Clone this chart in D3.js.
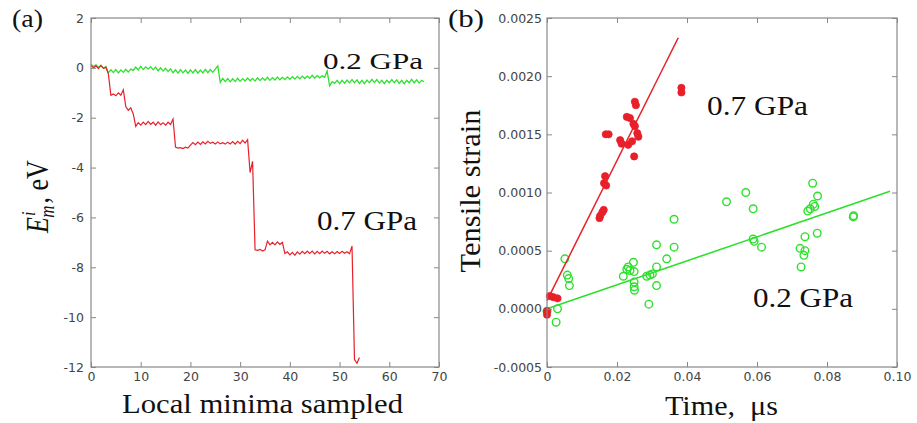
<!DOCTYPE html>
<html><head><meta charset="utf-8">
<script src="https://cdn.jsdelivr.net/npm/d3@7"></script>
<style>
body{margin:0;background:#fff;}
svg{display:block;}
.tick text{font-family:"DejaVu Sans",sans-serif;font-size:12.5px;fill:#444;}
.tick line{stroke:#888;}
.serif{font-family:"Liberation Serif","Times New Roman",serif;fill:#111;}
</style></head>
<body>
<svg id="c" width="917" height="423"></svg>
<script>
// ---------- Panel (a) data ----------
const stepA = 0.5; // sample spacing along "Local minima sampled"
const greenA = [
 0.15,0.05,0.12,0.02,0.1,-0.02,0.05,
 -0.2,-0.08,-0.19,-0.07,-0.2,-0.08,-0.18,-0.06,-0.17,-0.05,
 -0.1,0.03,-0.08,0.06,-0.07,0.04,-0.05,0.05,-0.08,0.03,
 -0.12,0.0,-0.13,-0.02,-0.15,-0.04,
 -0.2,-0.08,-0.21,-0.07,-0.2,-0.09,-0.22,-0.08,-0.2,-0.07,-0.21,-0.09,-0.2,-0.06,-0.19,-0.07,-0.18,
 -0.05,0.08,-0.58,
 -0.42,-0.55,-0.43,-0.56,-0.44,-0.55,-0.42,-0.54,-0.43,-0.53,-0.41,-0.52,-0.42,-0.53,-0.4,-0.51,-0.4,-0.5,-0.38,-0.5,-0.39,-0.49,-0.37,-0.48,-0.38,-0.47,-0.36,-0.46,-0.35,-0.45,-0.34,-0.44,-0.33,-0.43,-0.33,-0.42,-0.3,-0.41,-0.31,-0.4,-0.32,-0.38,
 -0.12,-0.72,-0.55,
 -0.62,-0.5,-0.63,-0.5,-0.62,-0.49,-0.6,-0.47,-0.6,-0.48,-0.62,-0.5,-0.63,-0.49,-0.6,-0.46,-0.58,-0.47,-0.61,-0.5,-0.63,-0.5,-0.6,-0.47,-0.6,-0.48,-0.62,-0.5,-0.64,-0.5,-0.6,-0.46,-0.6,-0.48,-0.61,-0.5,-0.56
];
const redA = [
 0.1,0.0,0.08,-0.03,0.1,-0.02,0.02,-0.25,
 -1.1,-1.05,-1.12,-1.0,-1.1,-0.88,-1.55,-1.7,-1.6,-1.85,
 -2.35,-2.2,-2.3,-2.18,-2.28,-2.15,-2.27,-2.18,-2.3,-2.17,-2.28,-2.2,-2.3,-2.18,-2.27,-2.05,
 -3.18,-3.22,-3.2,-3.24,-3.18,-3.22,
 -3.1,-3.0,-3.08,-2.98,-3.07,-2.97,-3.05,-2.95,-3.03,-2.98,-3.05,-2.97,-3.05,-3.0,-3.06,-2.98,-3.05,-2.96,-3.06,-2.95,-3.04,-2.9,-3.02,-2.88,
 -4.2,-3.75,-7.3,
 -7.32,-7.28,-7.35,-7.3,-6.95,-7.1,-7.0,-7.1,-6.98,-7.08,-7.0,
 -7.45,-7.38,-7.5,-7.4,-7.52,-7.38,-7.47,-7.36,-7.45,-7.35,-7.44,-7.35,-7.46,-7.36,-7.45,-7.35,-7.44,-7.36,-7.46,-7.38,-7.46,-7.37,-7.45,-7.36,-7.44,-7.38,-7.46,
 -7.15,-11.7,-11.85,-11.62
];
const xTicksA = [0,10,20,30,40,50,60,70];
const yTicksA = [2,0,-2,-4,-6,-8,-10,-12];

// ---------- Panel (b) data ----------
const redBX = [0.0,0.0,0.0008,0.0018,0.003,0.015,0.0152,0.0158,0.0162,0.0163,0.0166,0.0169,0.0168,0.0176,
 0.0209,0.0213,0.0228,0.0237,0.0232,0.0247,0.0251,0.0251,0.0254,0.0249,0.0258,0.0261,0.0243,0.0384,0.0384];
const redBY = [-0.00005,-0.00002,0.00011,0.0001,0.00009,0.00078,0.0008,0.00083,0.00085,0.00108,0.00114,0.00106,0.0015,0.0015,
 0.00145,0.00142,0.00165,0.00164,0.00141,0.00159,0.00157,0.00178,0.00175,0.00131,0.00151,0.00148,0.00144,0.0019,0.00186];
const greenBX = [0.0,0.0026,0.003,0.0051,0.0058,0.0062,0.0064,
 0.0218,0.0228,0.0232,0.0237,0.0247,0.0249,0.0249,0.0249,0.025,
 0.0285,0.0291,0.0294,0.0301,0.0313,0.0313,0.0313,0.0342,0.0363,0.0363,
 0.0513,0.0568,0.0589,0.0589,0.0592,0.0613,
 0.0723,0.0726,0.0734,0.0737,0.0737,0.0745,0.0752,0.0759,0.0761,0.0765,0.0773,0.0772,0.0875,0.0876];
const greenBY = [-0.00002,-0.000115,0.0,0.00043,0.00029,0.00026,0.0002,
 0.00028,0.00034,0.00036,0.00033,0.0004,0.00032,0.00023,0.00019,0.00016,
 0.00028,0.00004,0.00029,0.0003,0.00055,0.00036,0.0002,0.00043,0.00053,0.00077,
 0.00092,0.001,0.00086,0.0006,0.00058,0.00053,
 0.00052,0.00036,0.00046,0.0005,0.00062,0.00084,0.00086,0.00108,0.0009,0.00088,0.00097,0.00065,0.00079,0.0008];
const fitRed = [[0,0.00007],[0.0375,0.00233]];
const fitGreen = [[0,0.0],[0.098,0.00101]];
const xTicksB = [0,0.02,0.04,0.06,0.08,0.10];
const yTicksB = [0.0025,0.002,0.0015,0.001,0.0005,0,-0.0005];
const xLabelsB = ["0","0.02","0.04","0.06","0.08","0.10"];
const yLabelsB = ["0.0025","0.0020","0.0015","0.0010","0.0005","0.0000","-0.0005"];

const GREEN = "#2ee02e", RED = "#e8202a";
const svg = d3.select("#c");
svg.append("rect").attr("width",917).attr("height",423).attr("fill","#fff");

function frame(g, x, y, xt, yt, xfmt, yfmt, padY){
  const [x0,x1] = x.range(), [y0,y1] = y.range();
  g.append("g").attr("transform",`translate(0,${y0})`)
    .call(d3.axisBottom(x).tickValues(xt).tickFormat(xfmt).tickSizeInner(-5).tickSizeOuter(0).tickPadding(5));
  g.append("g").attr("transform",`translate(0,${y1})`)
    .call(d3.axisTop(x).tickValues(xt).tickFormat("").tickSizeInner(-5).tickSizeOuter(0));
  g.append("g").attr("transform",`translate(${x0},0)`)
    .call(d3.axisLeft(y).tickValues(yt).tickFormat(yfmt).tickSizeInner(-5).tickSizeOuter(0).tickPadding(padY));
  g.append("g").attr("transform",`translate(${x1},0)`)
    .call(d3.axisRight(y).tickValues(yt).tickFormat("").tickSizeInner(-5).tickSizeOuter(0));
  g.selectAll(".domain").remove();
  g.append("rect").attr("x",x0).attr("y",y1).attr("width",x1-x0).attr("height",y0-y1)
    .attr("fill","none").attr("stroke","#888").attr("stroke-width",1.2);
}

// ---------- Panel (a) ----------
const xA = d3.scaleLinear([0,70],[91,439]);
const yA = d3.scaleLinear([-12,2],[367,18]);
const gA = svg.append("g");
const lineA = d3.line().x((d,i)=>xA(i*stepA)).y(d=>yA(d));
gA.append("path").datum(greenA).attr("d",lineA).attr("fill","none").attr("stroke",GREEN).attr("stroke-width",1.3);
gA.append("path").datum(redA).attr("d",lineA).attr("fill","none").attr("stroke",RED).attr("stroke-width",1.2);
frame(gA, xA, yA, xTicksA, yTicksA, d=>String(d), d=>String(d), 7);

// ---------- Panel (b) ----------
const xB = d3.scaleLinear([0,0.1],[547,897]);
const yB = d3.scaleLinear([-0.0005,0.0025],[367,18]);
const gB = svg.append("g");
const lineB = d3.line().x(d=>xB(d[0])).y(d=>yB(d[1]));
gB.selectAll("circle.g").data(greenBX).join("circle").attr("class","g")
  .attr("cx",d=>xB(d)).attr("cy",(d,i)=>yB(greenBY[i])).attr("r",3.8)
  .attr("fill","none").attr("stroke",GREEN).attr("stroke-width",1.4);
gB.append("path").datum(fitGreen).attr("d",lineB).attr("stroke",GREEN).attr("stroke-width",1.6).attr("fill","none");
gB.selectAll("circle.r").data(redBX).join("circle").attr("class","r")
  .attr("cx",d=>xB(d)).attr("cy",(d,i)=>yB(redBY[i])).attr("r",3.6)
  .attr("fill",RED).attr("stroke",RED).attr("stroke-width",0.8);
gB.append("path").datum(fitRed).attr("d",lineB).attr("stroke",RED).attr("stroke-width",1.5).attr("fill","none");
frame(gB, xB, yB, xTicksB, yTicksB, (d,i)=>xLabelsB[i], (d,i)=>yLabelsB[i], 5);

// ---------- Text ----------
function label(txt, x, y, size, len){
  svg.append("text").attr("class","serif").attr("x",x).attr("y",y)
    .attr("font-size",size).attr("textLength",len).attr("lengthAdjust","spacingAndGlyphs").text(txt);
}
label("(a)", 12, 27, 25, 31);
label("(b)", 448, 27, 25, 36);
label("0.2 GPa", 323, 69, 24, 100);
label("0.7 GPa", 317, 230, 27, 100);
label("0.7 GPa", 707, 115, 27, 101);
label("0.2 GPa", 753, 307, 28, 100);
label("Local minima sampled", 122, 413, 27, 281);
label("Time,\u00a0\u00a0μs", 665, 415, 27, 113);

// rotated y titles
svg.append("text").attr("class","serif").attr("font-size",27)
  .attr("text-anchor","middle").attr("textLength",163).attr("lengthAdjust","spacingAndGlyphs")
  .attr("transform","translate(480,191) rotate(-90) scale(1,1.12)").text("Tensile strain");

const eT = svg.append("text").attr("class","serif").attr("font-size",26)
  .attr("transform","translate(48,233) rotate(-90) scale(1,1.2)");
eT.append("tspan").attr("font-style","italic").text("E");
eT.append("tspan").attr("font-style","italic").attr("font-size",16).attr("dx",1).attr("dy",-11).text("i");
eT.append("tspan").attr("font-style","italic").attr("font-size",17).attr("dx",-6).attr("dy",16).text("m");
eT.append("tspan").attr("dx",2).attr("dy",-5).text(",\u00a0eV");
</script>
</body></html>
